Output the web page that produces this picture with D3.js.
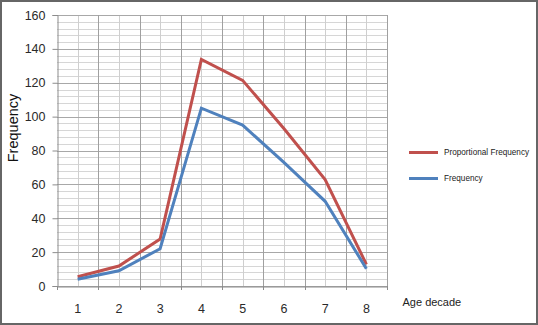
<!DOCTYPE html>
<html><head><meta charset="utf-8">
<script src="https://cdn.jsdelivr.net/npm/d3@7"></script>
<style>body{margin:0;background:#fff}svg{display:block;font-family:"Liberation Sans",Arial,sans-serif}</style>
</head><body>
<script>
const categories = ["1","2","3","4","5","6","7","8"];
const proportionalFrequency = [5.5, 11.8, 27.7, 133.8, 121.4, 93, 62.8, 12.8];
const frequency = [4, 9, 22, 105, 95, 73, 50, 10.2];
const yTicks = [0,20,40,60,80,100,120,140,160];
const seriesNames = ["Proportional Frequency","Frequency"];
const colors = ["#C0504D","#4F81BD"];

(function(){
const W=538,H=325;
const svg=d3.select("body").append("svg").attr("width",W).attr("height",H);
svg.append("rect").attr("x",1).attr("y",1).attr("width",W-2).attr("height",H-2).attr("fill","#fff").attr("stroke","#666").attr("stroke-width",2);

const pL=57,pR=387,pT=15,pB=286;
const x=d3.scaleBand().domain(categories).range([pL,pR]);
const y=d3.scaleLinear().domain([0,160]).range([pB,pT]);

const g=svg.append("g");
d3.range(0,161,4).filter(v=>v%20!==0).forEach(v=>{
  g.append("line").attr("x1",pL).attr("x2",pR).attr("y1",Math.round(y(v))+0.5).attr("y2",Math.round(y(v))+0.5).attr("stroke","#d6d6d6").attr("stroke-width",1);
});
categories.forEach(c=>{
  const xx=Math.round(x(c)+x.bandwidth()/2)+0.5;
  g.append("line").attr("x1",xx).attr("x2",xx).attr("y1",pT).attr("y2",pB).attr("stroke","#cfcfcf");
});
yTicks.forEach(v=>{
  g.append("line").attr("x1",pL).attr("x2",pR).attr("y1",Math.round(y(v))+0.5).attr("y2",Math.round(y(v))+0.5).attr("stroke","#a8a8a8");
});
categories.slice(1).concat(["end"]).forEach(c=>{
  const xx=Math.round(c==="end"?pR:x(c))+0.5;
  g.append("line").attr("x1",xx).attr("x2",xx).attr("y1",pT).attr("y2",pB).attr("stroke","#a0a0a0");
});

const yAxis=svg.append("g").attr("transform",`translate(${pL+0.5},0)`)
  .call(d3.axisLeft(y).tickValues(yTicks).tickSize(5).tickPadding(7));
yAxis.select(".domain").attr("stroke","#8c8c8c");
yAxis.selectAll(".tick line").attr("stroke","#8c8c8c");
yAxis.selectAll("text").attr("font-size",12.5).attr("fill","#2a2a2a").attr("font-family","Liberation Sans, Arial, sans-serif");

const xAxis=svg.append("g").attr("transform",`translate(0,${pB+0.5})`)
  .call(d3.axisBottom(x).tickSize(0).tickPadding(18));
xAxis.select(".domain").attr("stroke","#8c8c8c");
xAxis.selectAll("text").attr("font-size",12.5).attr("fill","#2a2a2a").attr("font-family","Liberation Sans, Arial, sans-serif");
categories.concat(["end"]).forEach(c=>{
  const xx=Math.round(c==="end"?pR:x(c))+0.5;
  svg.append("line").attr("x1",xx).attr("x2",xx).attr("y1",pB).attr("y2",pB+4).attr("stroke","#8c8c8c");
});

const line=d3.line().x((d,i)=>x(categories[i])+x.bandwidth()/2).y(d=>y(d));
[proportionalFrequency,frequency].forEach((s,i)=>{
  svg.append("path").datum(s).attr("d",line).attr("fill","none").attr("stroke",colors[i]).attr("stroke-width",3).attr("stroke-linejoin","miter");
});

svg.append("text").attr("transform","translate(18,128) rotate(-90)").attr("text-anchor","middle")
  .attr("font-size",14.5).attr("fill","#111").text("Frequency");
svg.append("text").attr("x",402.5).attr("y",305.5).attr("font-size",11).attr("fill","#222").text("Age decade");

const legY=[152.5,178.5];
seriesNames.forEach((n,i)=>{
  svg.append("line").attr("x1",409).attr("x2",438).attr("y1",legY[i]).attr("y2",legY[i]).attr("stroke",colors[i]).attr("stroke-width",3);
  svg.append("text").attr("x",444).attr("y",legY[i]+2.5).attr("font-size",8.2).attr("fill","#222").text(n);
});
})();
</script>
</body></html>
